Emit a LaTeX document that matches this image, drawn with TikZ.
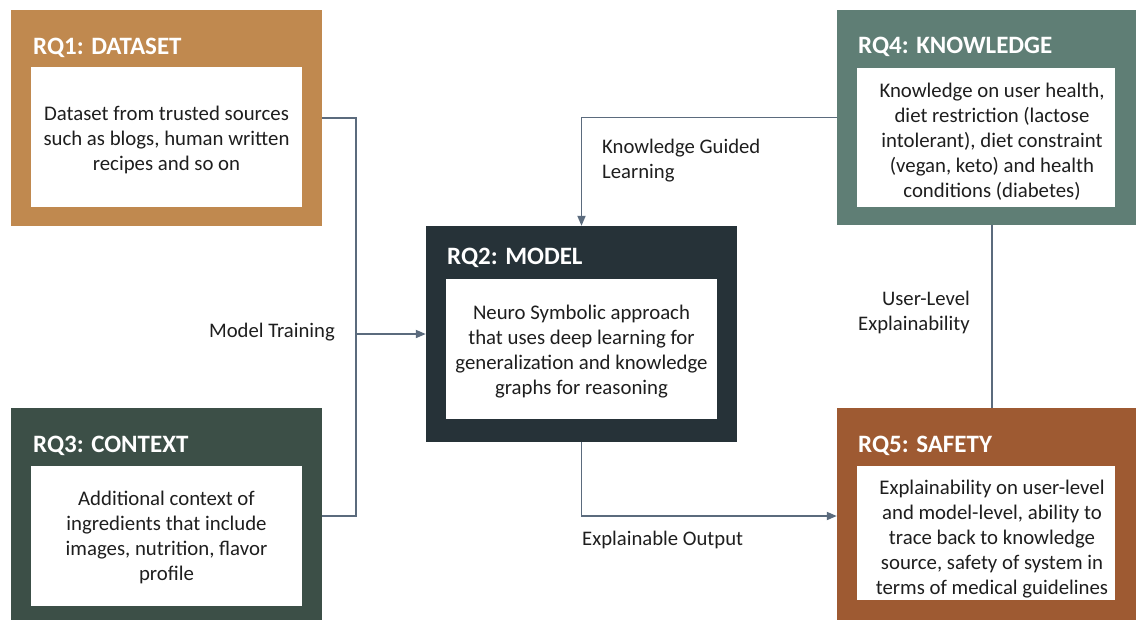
\documentclass[tikz,border=0pt]{standalone}
\usepackage{fontspec}
\setmainfont{Carlito}
\usetikzlibrary{arrows.meta}
\definecolor{cone}{HTML}{C0894F}
\definecolor{ctwo}{HTML}{263238}
\definecolor{cthree}{HTML}{3C4F47}
\definecolor{cfour}{HTML}{5F7E75}
\definecolor{cfive}{HTML}{9E5A32}
\definecolor{cline}{HTML}{5B6B7D}
\definecolor{ctext}{HTML}{1E1E1E}
\begin{document}
\begin{tikzpicture}[x=1pt,y=-1pt,
  outerbox/.style={rectangle,draw=none,inner sep=0pt},
  innerbox/.style={rectangle,fill=white,draw=none,inner sep=0pt},
  bodytext/.style={inner sep=0pt,align=center,text=ctext,
     font=\fontsize{20.8}{25}\selectfont},
  titletext/.style={anchor=base west,inner sep=0pt,text=white,font=\bfseries\fontsize{25}{29}\selectfont},
  lbl/.style={inner sep=0pt,text=ctext,font=\fontsize{20.7}{25}\selectfont},
  conn/.style={draw=cline,line width=1.8pt},
  arr/.style={conn,-{Triangle[length=10pt,width=8pt]}}]
\useasboundingbox (0,0) rectangle (1136,619);
% boxes
\node[outerbox,fill=cone,minimum width=311pt,minimum height=216pt] (rq1) at (166.5,118) {};
\node[innerbox,minimum width=271pt,minimum height=140pt] (rq1b) at (166.5,137) {};
\node[bodytext] (rq1t) at (166.5,140)
  {Dataset from trusted sources\\such as blogs, human written\\recipes and so on};
\node[titletext] (rq1h) at (33,54) {RQ1: DATASET};

\node[outerbox,fill=cthree,minimum width=311pt,minimum height=216pt] (rq3) at (166.5,516) {};
\node[innerbox,minimum width=271pt,minimum height=140pt] (rq3b) at (166.5,536) {};
\node[bodytext] (rq3t) at (166.5,537)
  {Additional context of\\ingredients that include\\images, nutrition, flavor\\profile};
\node[titletext] (rq3h) at (33,452) {RQ3: CONTEXT};

\node[outerbox,fill=ctwo,minimum width=311pt,minimum height=216pt] (rq2) at (581.5,334) {};
\node[innerbox,minimum width=271pt,minimum height=140pt] (rq2b) at (581.5,349) {};
\node[bodytext] (rq2t) at (581.5,352)
  {Neuro Symbolic approach\\that uses deep learning for\\generalization and knowledge\\graphs for reasoning};
\node[titletext] (rq2h) at (447,264) {RQ2: MODEL};

\node[outerbox,fill=cfour,minimum width=310pt,minimum height=215pt] (rq4) at (992,117.5) {};
\node[innerbox,minimum width=258pt,minimum height=139pt] (rq4b) at (986,137.5) {};
\node[bodytext] (rq4t) at (992,141.5)
  {Knowledge on user health,\\diet restriction (lactose\\intolerant), diet constraint\\(vegan, keto) and health\\conditions (diabetes)};
\node[titletext] (rq4h) at (858,53) {RQ4: KNOWLEDGE};

\node[outerbox,fill=cfive,minimum width=310pt,minimum height=216pt] (rq5) at (992,516) {};
\node[innerbox,minimum width=258pt,minimum height=134pt] (rq5b) at (986,533) {};
\node[bodytext] (rq5t) at (992,539)
  {Explainability on user-level\\and model-level, ability to\\trace back to knowledge\\source, safety of system in\\terms of medical guidelines};
\node[titletext] (rq5h) at (858,452) {RQ5: SAFETY};

% connectors
\coordinate (jtop) at (356,118);
\coordinate (jmid) at (356,334);
\coordinate (jbot) at (356,516);
\draw[conn] (rq1.east) -- (jtop) -- (jbot) -- (rq3.east);
\draw[arr] (jmid) -- (rq2.west);
\coordinate (kg) at (581.5,117.5);
\draw[arr] (rq4.west) -- (kg) -- (rq2.north);
\coordinate (eo) at (581.5,516);
\draw[arr] (rq2.south) -- (eo) -- (rq5.west);
\draw[conn] (rq4.south) -- (rq5.north);

% labels
\node[lbl,anchor=base east] (lmt) at (335,337) {Model Training};
\node[lbl,anchor=base west,align=left] (lkg) at (602,178) {Knowledge Guided\\Learning};
\node[lbl,anchor=base east,align=right] (lue) at (970,330) {User-Level\\Explainability};
\node[lbl,anchor=base west] (leo) at (582,545) {Explainable Output};
\end{tikzpicture}
\end{document}
